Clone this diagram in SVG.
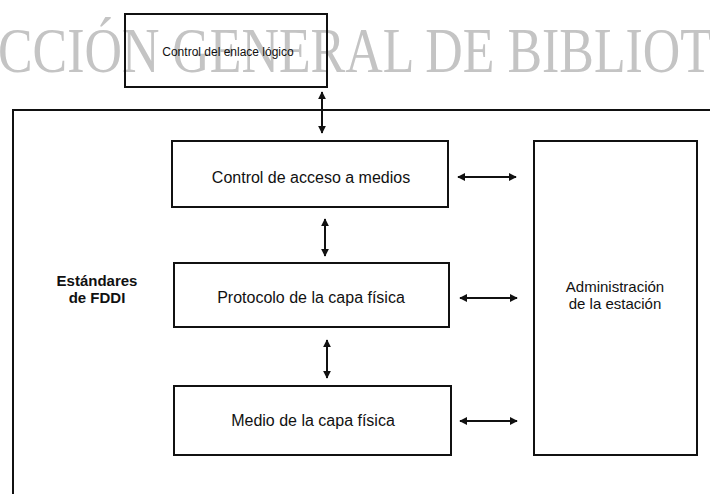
<svg xmlns="http://www.w3.org/2000/svg" width="710" height="494" viewBox="0 0 710 494">
<style>
.box{fill:none;stroke:#111;stroke-width:2}
.lbl{font-family:"Liberation Sans",Arial,sans-serif;font-size:16px;fill:#111;text-anchor:middle}
.two{font-size:15px}
.small{font-size:12px}
.bold{font-weight:bold}
.conn{stroke:#111;stroke-width:2;fill:none}
.wm{font-family:"Liberation Serif","Times New Roman",serif;font-size:64px;fill:#c4c4c4}
</style>
<defs>
<marker id="ah" viewBox="0 0 10 10" refX="9" refY="5" markerWidth="4" markerHeight="4" orient="auto-start-reverse">
<path d="M0,0 L10,5 L0,10 z" fill="#111"/>
</marker>
</defs>
<rect width="710" height="494" fill="#fff"/>
<text class="wm" x="-2" y="72" textLength="714" lengthAdjust="spacingAndGlyphs">CCIÓN GENERAL DE BIBLIOT</text>
<g id="frame">
<path class="box" d="M13,494 V110 H710"/>
</g>
<g id="llc">
<rect class="box" x="125" y="14" width="202" height="73"/>
<text class="lbl small" x="228" y="56">Control del enlace lógico</text>
</g>
<g id="mac">
<rect class="box" x="172" y="141" width="276" height="66"/>
<text class="lbl" x="311" y="183">Control de acceso a medios</text>
</g>
<g id="phy">
<rect class="box" x="174" y="263" width="275" height="64"/>
<text class="lbl" x="311" y="303">Protocolo de la capa física</text>
</g>
<g id="pmd">
<rect class="box" x="174" y="386" width="277" height="69"/>
<text class="lbl" x="313" y="426">Medio de la capa física</text>
</g>
<g id="smt">
<rect class="box" x="534" y="141" width="163" height="314"/>
<text class="lbl two" x="615" y="292">Administración</text>
<text class="lbl two" x="615" y="309">de la estación</text>
</g>
<g id="fddi">
<text class="lbl two bold" x="97" y="286">Estándares</text>
<text class="lbl two bold" x="97" y="303">de FDDI</text>
</g>
<g id="connectors">
<line class="conn" x1="322" y1="92" x2="322" y2="133" marker-start="url(#ah)" marker-end="url(#ah)"/>
<line class="conn" x1="325" y1="219" x2="325" y2="256" marker-start="url(#ah)" marker-end="url(#ah)"/>
<line class="conn" x1="327" y1="340" x2="327" y2="378" marker-start="url(#ah)" marker-end="url(#ah)"/>
<line class="conn" x1="458" y1="177" x2="516" y2="177" marker-start="url(#ah)" marker-end="url(#ah)"/>
<line class="conn" x1="460" y1="298" x2="517" y2="298" marker-start="url(#ah)" marker-end="url(#ah)"/>
<line class="conn" x1="460" y1="421" x2="517" y2="421" marker-start="url(#ah)" marker-end="url(#ah)"/>
</g>
</svg>
